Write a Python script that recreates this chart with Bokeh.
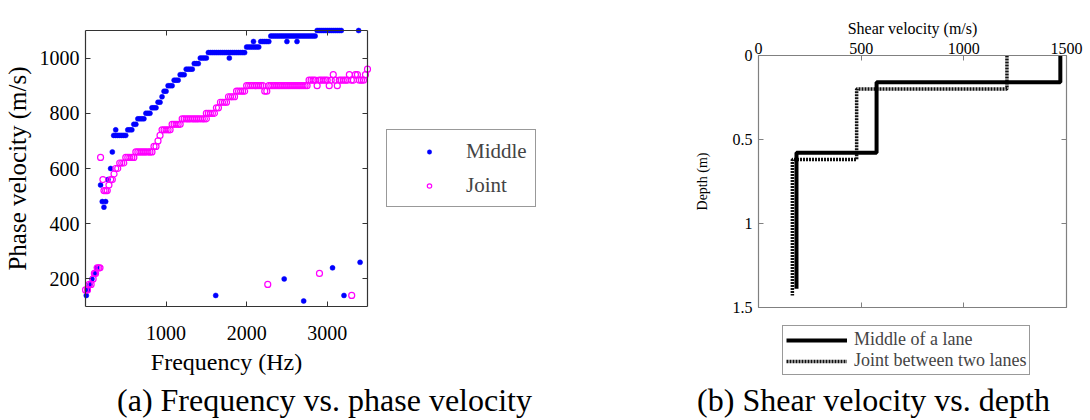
from bokeh.plotting import figure
from bokeh.models import (Range1d, LinearAxis, FixedTicker, Legend, LegendItem,
                          NumeralTickFormatter, ColumnDataSource)
from bokeh.embed import file_html
from bokeh.resources import INLINE
from bokeh.core.properties import value

# ---------------- panel (a): frequency vs phase velocity ----------------
series_labels = ["Middle", "Joint"]

mid_freq = [10, 30, 55, 80, 120, 140,
            187, 208, 229, 250, 279, 312, 333,
            350, 375, 375, 400, 425, 450, 475, 500,
            525, 550, 575,
            600, 625,
            650, 675, 700, 725,
            750, 775, 800,
            825, 850, 875,
            900, 925,
            950, 975, 1000,
            1025, 1050, 1075,
            1100, 1125, 1150,
            1175, 1200, 1225,
            1250, 1275, 1300, 1325,
            1350, 1375, 1400,
            1425, 1450, 1475, 1500,
            1525, 1550, 1575, 1600, 1625, 1650, 1675, 1700, 1725, 1750, 1775,
            1785,
            1800, 1825, 1850, 1875, 1900, 1925, 1950, 1975,
            2000, 2025, 2050, 2075,
            2085,
            2100, 2125, 2150,
            2175, 2200, 2225, 2250, 2275,
            2300, 2325, 2350, 2375, 2400, 2425, 2450, 2475, 2500,
            2500,
            2525, 2550, 2575, 2600, 2625,
            2625,
            2650, 2675, 2700, 2725, 2750, 2775, 2800, 2825, 2850,
            2875, 2900, 2925, 2950, 2975, 3000, 3025, 3050, 3075, 3100, 3125, 3150, 3175,
            3390]
mid_vel = [140, 160, 180, 200, 220, 240,
           540, 480, 460, 480, 560, 600, 660,
           720, 720, 740, 720, 720, 720, 720, 720,
           740, 740, 740,
           760, 760,
           780, 780, 780, 780,
           800, 800, 800,
           820, 820, 820,
           840, 840,
           860, 880, 880,
           900, 900, 900,
           920, 920, 920,
           940, 940, 940,
           960, 960, 960, 960,
           980, 980, 980,
           1000, 1000, 1000, 1000,
           1020, 1020, 1020, 1020, 1020, 1020, 1020, 1020, 1020, 1020, 1020,
           1000,
           1020, 1020, 1020, 1020, 1020, 1020, 1020, 1020,
           1040, 1040, 1040, 1040,
           1060,
           1040, 1040, 1040,
           1060, 1060, 1060, 1060, 1060,
           1080, 1080, 1080, 1080, 1080, 1080, 1080, 1080, 1080,
           1060,
           1080, 1080, 1080, 1080, 1080,
           1060,
           1080, 1080, 1080, 1080, 1080, 1080, 1080, 1080, 1080,
           1100, 1100, 1100, 1100, 1100, 1100, 1100, 1100, 1100, 1100, 1100, 1100, 1100,
           1100]
mid_out_freq = [1616, 2466, 2708, 3066, 3208, 3408]
mid_out_vel = [140, 200, 120, 240, 140, 260]

jnt_freq = [0, 25, 45, 70, 95, 110, 125, 145, 165, 180,
            187, 216, 229, 250, 270, 291, 312, 333, 354, 375, 400,
            425, 450, 475,
            500, 525, 550, 575, 600,
            625, 650, 675, 700, 725, 750, 775, 800, 825,
            850, 875, 900, 925,
            950, 975, 1000, 1025, 1050,
            1075, 1100, 1125, 1150, 1175,
            1200, 1225, 1250, 1275, 1300, 1325, 1350, 1375, 1400, 1425, 1450, 1475, 1500,
            1500,
            1525, 1550, 1575, 1600,
            1625, 1650,
            1675, 1700, 1725, 1750,
            1775, 1800, 1825, 1850,
            1875, 1900, 1925, 1950, 1975,
            2000, 2025, 2050, 2075, 2100, 2125, 2150, 2175, 2200,
            2225, 2250,
            2275, 2300, 2325, 2350, 2375, 2400, 2425, 2450, 2475, 2500,
            2525, 2550, 2575, 2600, 2625, 2650, 2675, 2700, 2725, 2750,
            2775, 2800, 2825, 2850,
            2875, 2900, 2925, 2950, 2975, 3000, 3025, 3050, 3075, 3100,
            3125, 3150, 3175, 3200, 3225, 3250, 3275, 3300, 3325, 3350,
            3375, 3400, 3425, 3450, 3475, 3500]
jnt_vel = [160, 160, 180, 180, 200, 220, 220, 240, 240, 240,
           640, 560, 520, 520, 520, 540, 560, 560, 580, 600, 600,
           620, 620, 620,
           640, 640, 640, 640, 640,
           660, 660, 660, 660, 660, 660, 660, 660, 660,
           680, 680, 700, 720,
           740, 740, 740, 740, 740,
           760, 760, 760, 760, 760,
           780, 780, 780, 780, 780, 780, 780, 780, 780, 780, 780, 780, 780,
           800,
           800, 800, 800, 800,
           820, 820,
           840, 840, 840, 840,
           860, 860, 860, 860,
           880, 880, 880, 880, 880,
           900, 900, 900, 900, 900, 900, 900, 900, 900,
           880, 880,
           900, 900, 900, 900, 900, 900, 900, 900, 900, 900,
           900, 900, 900, 900, 900, 900, 900, 900, 900, 900,
           920, 920, 920, 920,
           900, 920, 920, 920, 920, 920, 900, 920, 940, 920,
           900, 920, 920, 920, 920, 920, 940, 920, 920, 940,
           940, 920, 920, 920, 940, 960]
jnt_out_freq = [2262, 2904, 3304]
jnt_out_vel = [180, 220, 140]

freq_lim = (0, 3500)
vel_lim = (100, 1100)
freq_ticks = [1000, 2000, 3000]
vel_ticks = [200, 400, 600, 800, 1000]

# ---------------- panel (b): shear velocity vs depth ----------------
profile_labels = ["Middle of a lane", "Joint between two lanes"]
mid_layer_vs = [1470, 575, 185]
mid_layer_bottom = [0.16, 0.58, 1.39]
jnt_layer_vs = [1210, 478, 165]
jnt_layer_bottom = [0.20, 0.62, 1.43]
vs_lim = (0, 1500)
depth_lim = (0, 1.5)
vs_ticks = [0, 500, 1000, 1500]
depth_ticks = [0, 0.5, 1, 1.5]

captions = ["(a) Frequency vs. phase velocity", "(b) Shear velocity vs. depth"]

# ---------------- layout (pixels on the 1090 x 420 canvas) ----------------
W, H = 1090, 420
BOX_A = dict(left=85, right=367, top=30, bottom=306)
BOX_B = dict(left=758, right=1066, top=55, bottom=306.7)
SERIF = "Liberation Serif"
AX1 = "#333333"
AX2 = "#808080"


def x_range_for(box, lim):
    per_px = (lim[1] - lim[0]) / (box["right"] - box["left"])
    start = lim[0] - box["left"] * per_px
    return Range1d(start, start + W * per_px)


def y_range_for(box, lim, flipped=False):
    per_px = (lim[1] - lim[0]) / (box["bottom"] - box["top"])
    if flipped:   # lim[0] at top
        top = lim[0] - box["top"] * per_px
        return Range1d(top + H * per_px, top)
    top = lim[1] + box["top"] * per_px
    return Range1d(top - H * per_px, top)


def profile(vs, bottoms):
    xs, ys = [], []
    top = 0.0
    for v, b in zip(vs, bottoms):
        xs += [v, v]
        ys += [top, b]
        top = b
    return xs, ys


def make_axis(ticks, loc, bounds, color, xr="default", yr="default", show=True,
              tick_size="20px", label="", label_size="20px", standoff=5, label_standoff=5):
    ax = LinearAxis(ticker=FixedTicker(ticks=ticks), fixed_location=loc, bounds=bounds,
                    x_range_name=xr, y_range_name=yr,
                    major_tick_in=5, major_tick_out=0, minor_tick_line_color=None,
                    axis_line_color=color, axis_line_width=1.2,
                    major_tick_line_color=color, major_label_standoff=standoff)
    if show:
        ax.major_label_text_font = SERIF
        ax.major_label_text_font_size = tick_size
        ax.major_label_text_color = "black"
        if label:
            ax.axis_label = label
            ax.axis_label_text_font = SERIF
            ax.axis_label_text_font_size = label_size
            ax.axis_label_text_font_style = "normal"
            ax.axis_label_text_color = "black"
            ax.axis_label_standoff = label_standoff
    else:
        ax.major_label_text_font_size = "1px"
        ax.major_label_text_alpha = 0
    return ax


p = figure(width=W, height=H, x_range=x_range_for(BOX_A, freq_lim),
           y_range=y_range_for(BOX_A, vel_lim),
           x_axis_type=None, y_axis_type=None, output_backend="svg",
           toolbar_location=None, min_border=0)
p.extra_x_ranges = {"vs": x_range_for(BOX_B, vs_lim), "px": Range1d(0, W)}
p.extra_y_ranges = {"depth": y_range_for(BOX_B, depth_lim, flipped=True), "py": Range1d(0, H)}
p.outline_line_color = None
p.grid.visible = False

# ----- axes of panel (a)
p.add_layout(make_axis(vel_ticks, freq_lim[0], vel_lim, AX1, label="Phase velocity (m/s)",
                       label_size="25px", standoff=6, label_standoff=6), "left")
p.add_layout(make_axis(freq_ticks, vel_lim[0], freq_lim, AX1, label="Frequency (Hz)",
                       label_size="24px", standoff=19, label_standoff=6), "below")
p.add_layout(make_axis(freq_ticks, vel_lim[1], freq_lim, AX1, show=False), "above")
p.add_layout(make_axis(vel_ticks, freq_lim[1], vel_lim, AX1, show=False), "right")

# ----- axes of panel (b)
ax_top = make_axis(vs_ticks, depth_lim[0], vs_lim, AX2, xr="vs", yr="depth",
                   tick_size="16px", label="Shear velocity (m/s)", label_size="16px",
                   standoff=2, label_standoff=3)
p.add_layout(ax_top, "above")
ax_left = make_axis(depth_ticks, vs_lim[0], depth_lim, AX2, xr="vs", yr="depth",
                    tick_size="16px", label="Depth (m)", label_size="14px",
                    standoff=6, label_standoff=20)
ax_left.formatter = NumeralTickFormatter(format="0.[0]")
p.add_layout(ax_left, "left")
p.add_layout(make_axis(vs_ticks, depth_lim[1], vs_lim, AX2, xr="vs", yr="depth", show=False), "below")
p.add_layout(make_axis(depth_ticks, vs_lim[1], depth_lim, AX2, xr="vs", yr="depth", show=False), "right")

# ----- data of panel (a)
src_mid = ColumnDataSource(dict(f=mid_freq + mid_out_freq, v=mid_vel + mid_out_vel))
src_jnt = ColumnDataSource(dict(f=jnt_freq + jnt_out_freq, v=jnt_vel + jnt_out_vel))
r_mid = p.scatter("f", "v", source=src_mid, marker="circle", size=5,
                  fill_color="#0000ff", line_color="#0000ff", line_width=0.5)
r_jnt = p.scatter("f", "v", source=src_jnt, marker="circle", size=6,
                  fill_color=None, line_color="#ff00ff", line_width=1.2)

# ----- data of panel (b)
jx, jy = profile(jnt_layer_vs, jnt_layer_bottom)
mx, my = profile(mid_layer_vs, mid_layer_bottom)
r_j = p.line(jx, jy, x_range_name="vs", y_range_name="depth",
             line_color="#111111", line_width=3.5, line_dash="2 1")
r_m = p.line(mx, my, x_range_name="vs", y_range_name="depth",
             line_color="black", line_width=4)

# ----- legends
leg1 = Legend(items=[LegendItem(label=series_labels[0], renderers=[r_mid]),
                     LegendItem(label=series_labels[1], renderers=[r_jnt])],
              location=(386, H - 207), orientation="vertical",
              label_text_font=SERIF, label_text_font_size="21px",
              padding=8, spacing=8, glyph_width=68, glyph_height=11, label_height=26,
              label_standoff=3, margin=0, border_line_color=AX1, border_line_width=1.5,
              background_fill_color="white", background_fill_alpha=1)
p.add_layout(leg1, "center")

leg2 = Legend(items=[LegendItem(label=profile_labels[0], renderers=[r_m]),
                     LegendItem(label=profile_labels[1], renderers=[r_j])],
              location=(782, H - 375), orientation="vertical",
              label_text_font=SERIF, label_text_font_size="18px",
              padding=3, spacing=0, glyph_width=61, glyph_height=18, label_height=18,
              label_standoff=7, margin=0, border_line_color="#333333", border_line_width=1.2,
              background_fill_color="white", background_fill_alpha=1)
p.add_layout(leg2, "center")

# ----- captions
p.text(x=[324, 873], y=[H - 399, H - 399], text=captions, x_range_name="px", y_range_name="py",
       text_font=value(SERIF), text_font_size="32px", text_align="center",
       text_baseline="alphabetic", text_color="black")

open("out.html", "w").write(file_html(p, INLINE))
